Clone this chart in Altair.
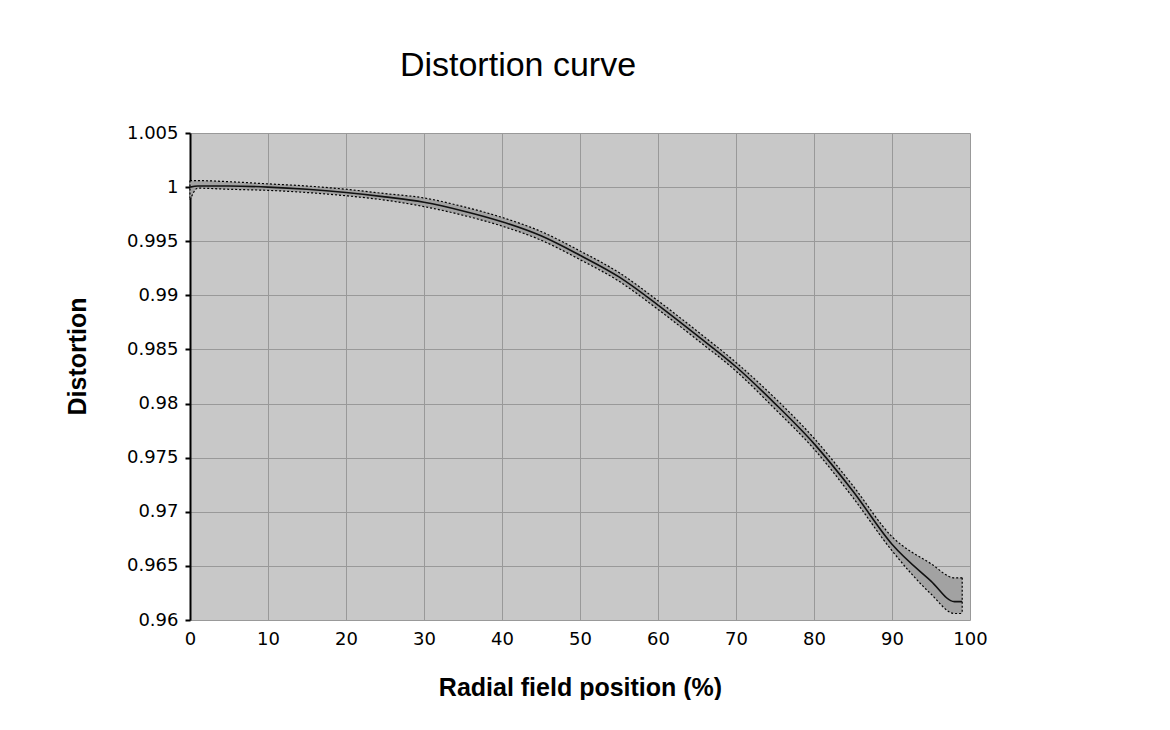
import altair as alt
import pandas as pd

# Radial field position (%)
pos = [0, 1, 5, 10, 15, 20, 25, 30, 35, 40, 45, 50, 55, 60, 65, 70, 75, 80, 85, 90, 95, 98, 99]
# Distortion (centre curve)
center = [1.0000, 1.0001, 1.0001, 1.0000, 0.9998, 0.9995, 0.9991, 0.9986, 0.9978, 0.9968, 0.9955, 0.9937,
          0.9917, 0.9891, 0.9863, 0.9834, 0.9800, 0.9763, 0.9719, 0.9670, 0.9636, 0.9617, 0.9617]
# Upper and lower envelope
upper = [1.0006, 1.0006, 1.0005, 1.0003, 1.0001, 0.9998, 0.9994, 0.9990, 0.9982, 0.9972, 0.9959, 0.9941,
         0.9921, 0.9895, 0.9867, 0.9838, 0.9805, 0.9768, 0.9724, 0.9677, 0.9652, 0.9639, 0.9639]
lower = [0.9988, 0.9999, 0.9998, 0.9997, 0.9995, 0.9992, 0.9988, 0.9982, 0.9974, 0.9964, 0.9951, 0.9933,
         0.9913, 0.9887, 0.9859, 0.9830, 0.9795, 0.9758, 0.9713, 0.9664, 0.9624, 0.9606, 0.9606]

x_ticks = [0, 10, 20, 30, 40, 50, 60, 70, 80, 90, 100]
y_ticks = [0.96, 0.965, 0.97, 0.975, 0.98, 0.985, 0.99, 0.995, 1.0, 1.005]

df = pd.DataFrame({"x": pos, "c": center, "u": upper, "l": lower})
env = pd.concat([
    pd.DataFrame({"x": pos, "v": upper, "s": "upper"}),
    pd.DataFrame({"x": pos, "v": lower, "s": "lower"}),
])
ends = df.iloc[[0, -1]]

xs = alt.Scale(domain=[0, 100], nice=False, zero=False)
ys = alt.Scale(domain=[0.96, 1.005], nice=False, zero=False)

x_axis = alt.Axis(values=x_ticks, format="d", title="Radial field position (%)",
                  domain=False, ticks=False, labelPadding=10, labelFlush=False,
                  titleY=67, titleBaseline="middle")
y_axis = alt.Axis(values=y_ticks, format=".4~g", title="Distortion",
                  domain=True, domainColor="black", domainWidth=2,
                  ticks=True, tickColor="black", tickWidth=2, tickSize=5, labelPadding=7,
                  labelFlush=False,
                  titleAngle=270, titleX=-113, titleY=223, titleAlign="center",
                  titleBaseline="middle")

base = alt.Chart(df)

band = base.mark_area(color="#A2A2A2", opacity=1, interpolate="monotone").encode(
    x=alt.X("x:Q", scale=xs, axis=x_axis),
    y=alt.Y("u:Q", scale=ys, axis=y_axis),
    y2="l:Q",
)

edges = alt.Chart(env).mark_line(color="black", strokeWidth=1.2, strokeDash=[2, 2],
                                 interpolate="monotone").encode(
    x=alt.X("x:Q", scale=xs),
    y=alt.Y("v:Q", scale=ys),
    detail="s:N",
)

caps = alt.Chart(ends).mark_rule(color="black", strokeWidth=1.2, strokeDash=[2, 2]).encode(
    x=alt.X("x:Q", scale=xs),
    y=alt.Y("u:Q", scale=ys),
    y2="l:Q",
)

mid = base.mark_line(color="#111111", strokeWidth=1.6, interpolate="monotone").encode(
    x=alt.X("x:Q", scale=xs),
    y=alt.Y("c:Q", scale=ys),
)

chart = alt.layer(band, edges, caps, mid).properties(
    width=780, height=487,
    background="white",
    autosize=alt.AutoSizeParams(type="none"),
    padding={"left": 182, "top": 125, "right": 30, "bottom": 80},
    title=alt.TitleParams("Distortion curve", font="Liberation Sans", fontSize=34,
                          fontWeight="normal", color="black", anchor="middle",
                          frame="group", dx=-62, offset=14, baseline="alphabetic"),
).configure_view(
    fill="#C8C8C8", stroke=None,
).configure_axis(
    grid=True, gridColor="#999999", gridWidth=1,
    labelFont="DejaVu Sans", labelFontSize=18, labelColor="black",
    titleFont="Liberation Sans", titleFontSize=25, titleFontWeight="bold", titleColor="black",
)

chart.save("out.html", embed_options={"renderer": "svg", "actions": False})
